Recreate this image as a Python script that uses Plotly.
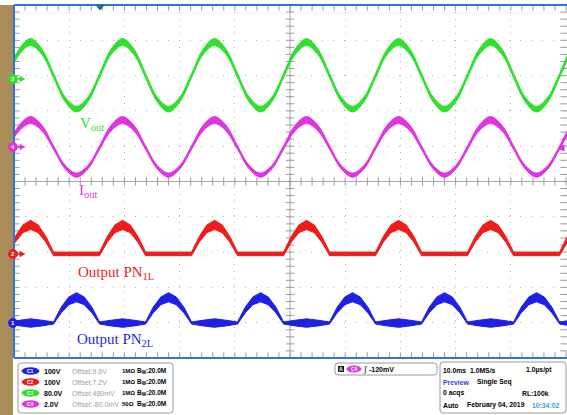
import numpy as np
import plotly.graph_objects as go

W, H = 567, 415

# ---------------- data: time (ms) vs screen divisions ----------------
# sine traces: points every 1/8 period (peaks, crossings, troughs, in between)
t_sine = [-51.17, -49.08, -47.00, -44.92, -42.83, -40.75, -38.67, -36.58, -34.50,
          -32.42, -30.33, -28.25, -26.17, -24.08, -22.00, -19.92, -17.83, -15.75,
          -13.67, -11.58, -9.50, -7.42, -5.33, -3.25, -1.17, 0.92, 3.00, 5.08,
          7.17, 9.25, 11.33, 13.42, 15.50, 17.58, 19.67, 21.75, 23.83, 25.92,
          28.00, 30.08, 32.17, 34.25, 36.33, 38.42, 40.50, 42.58, 44.67, 46.75,
          48.83, 50.92, 53.00]
vout_mid = [3.00, 3.67, 3.95, 3.67, 3.00, 2.33, 2.05, 2.33,
            3.00, 3.67, 3.95, 3.67, 3.00, 2.33, 2.05, 2.33,
            3.00, 3.67, 3.95, 3.67, 3.00, 2.33, 2.05, 2.33,
            3.00, 3.67, 3.95, 3.67, 3.00, 2.33, 2.05, 2.33,
            3.00, 3.67, 3.95, 3.67, 3.00, 2.33, 2.05, 2.33,
            3.00, 3.67, 3.95, 3.67, 3.00, 2.33, 2.05, 2.33,
            3.00, 3.67, 3.95]
vout_half = [0.06, 0.08, 0.10, 0.08, 0.06, 0.07, 0.08, 0.07,
             0.06, 0.08, 0.10, 0.08, 0.06, 0.07, 0.08, 0.07,
             0.06, 0.08, 0.10, 0.08, 0.06, 0.07, 0.08, 0.07,
             0.06, 0.08, 0.10, 0.08, 0.06, 0.07, 0.08, 0.07,
             0.06, 0.08, 0.10, 0.08, 0.06, 0.07, 0.08, 0.07,
             0.06, 0.08, 0.10, 0.08, 0.06, 0.07, 0.08, 0.07,
             0.06, 0.08, 0.10]
iout_mid = [0.96, 1.51, 1.74, 1.51, 0.96, 0.41, 0.18, 0.41,
            0.96, 1.51, 1.74, 1.51, 0.96, 0.41, 0.18, 0.41,
            0.96, 1.51, 1.74, 1.51, 0.96, 0.41, 0.18, 0.41,
            0.96, 1.51, 1.74, 1.51, 0.96, 0.41, 0.18, 0.41,
            0.96, 1.51, 1.74, 1.51, 0.96, 0.41, 0.18, 0.41,
            0.96, 1.51, 1.74, 1.51, 0.96, 0.41, 0.18, 0.41,
            0.96, 1.51, 1.74]
iout_half = [0.05, 0.08, 0.10, 0.08, 0.05, 0.05, 0.06, 0.05,
             0.05, 0.08, 0.10, 0.08, 0.05, 0.05, 0.06, 0.05,
             0.05, 0.08, 0.10, 0.08, 0.05, 0.05, 0.06, 0.05,
             0.05, 0.08, 0.10, 0.08, 0.05, 0.05, 0.06, 0.05,
             0.05, 0.08, 0.10, 0.08, 0.05, 0.05, 0.06, 0.05,
             0.05, 0.08, 0.10, 0.08, 0.05, 0.05, 0.06, 0.05,
             0.05, 0.08, 0.10]

# Output PN1L: pulses during the positive half cycle
t_pn1 = [-51.17, -49.78, -48.39, -47.00, -45.61, -44.22, -42.83,
         -34.50, -33.11, -31.72, -30.33, -28.94, -27.55, -26.16,
         -17.84, -16.45, -15.06, -13.67, -12.28, -10.89, -9.50,
         -1.17, 0.22, 1.61, 3.00, 4.39, 5.78, 7.17,
         15.50, 16.89, 18.28, 19.67, 21.06, 22.45, 23.84,
         32.16, 33.55, 34.94, 36.33, 37.72, 39.11, 40.50,
         48.83, 50.22, 51.61, 53.00]
pn1_mid = [-2.05, -1.64, -1.34, -1.23, -1.34, -1.64, -2.05,
           -2.05, -1.64, -1.34, -1.23, -1.34, -1.64, -2.05,
           -2.05, -1.64, -1.34, -1.23, -1.34, -1.64, -2.05,
           -2.05, -1.64, -1.34, -1.23, -1.34, -1.64, -2.05,
           -2.05, -1.64, -1.34, -1.23, -1.34, -1.64, -2.05,
           -2.05, -1.64, -1.34, -1.23, -1.34, -1.64, -2.05,
           -2.05, -1.64, -1.34, -1.23]
pn1_half = [0.05, 0.08, 0.11, 0.13, 0.11, 0.08, 0.05,
            0.05, 0.08, 0.11, 0.13, 0.11, 0.08, 0.05,
            0.05, 0.08, 0.11, 0.13, 0.11, 0.08, 0.05,
            0.05, 0.08, 0.11, 0.13, 0.11, 0.08, 0.05,
            0.05, 0.08, 0.11, 0.13, 0.11, 0.08, 0.05,
            0.05, 0.08, 0.11, 0.13, 0.11, 0.08, 0.05,
            0.05, 0.08, 0.11, 0.13]

# Output PN2L: pulses during the negative half cycle, ripple band on the floor
t_pn2 = [-51.17, -49.08, -47.00, -44.92,
         -42.84, -41.45, -40.06, -38.67, -37.28, -35.89, -34.50,
         -32.42, -30.33, -28.25,
         -26.17, -24.78, -23.39, -22.00, -20.61, -19.22, -17.83,
         -15.75, -13.67, -11.59,
         -9.50, -8.11, -6.72, -5.33, -3.94, -2.55, -1.16,
         0.92, 3.00, 5.08,
         7.16, 8.55, 9.94, 11.33, 12.72, 14.11, 15.50,
         17.58, 19.67, 21.75,
         23.83, 25.22, 26.61, 28.00, 29.39, 30.78, 32.17,
         34.25, 36.33, 38.42,
         40.50, 41.89, 43.28, 44.67, 46.06, 47.45, 48.84,
         50.92, 53.00]
pn2_mid = [-4.01, -4.01, -4.01, -4.01,
           -4.01, -3.64, -3.38, -3.28, -3.38, -3.64, -4.01,
           -4.01, -4.01, -4.01,
           -4.01, -3.64, -3.38, -3.28, -3.38, -3.64, -4.01,
           -4.01, -4.01, -4.01,
           -4.01, -3.64, -3.38, -3.28, -3.38, -3.64, -4.01,
           -4.01, -4.01, -4.01,
           -4.01, -3.64, -3.38, -3.28, -3.38, -3.64, -4.01,
           -4.01, -4.01, -4.01,
           -4.01, -3.64, -3.38, -3.28, -3.38, -3.64, -4.01,
           -4.01, -4.01, -4.01,
           -4.01, -3.64, -3.38, -3.28, -3.38, -3.64, -4.01,
           -4.01, -4.01]
pn2_half = [0.03, 0.08, 0.12, 0.08,
            0.03, 0.08, 0.11, 0.13, 0.11, 0.08, 0.03,
            0.08, 0.12, 0.08,
            0.03, 0.08, 0.11, 0.13, 0.11, 0.08, 0.03,
            0.08, 0.12, 0.08,
            0.03, 0.08, 0.11, 0.13, 0.11, 0.08, 0.03,
            0.08, 0.12, 0.08,
            0.03, 0.08, 0.11, 0.13, 0.11, 0.08, 0.03,
            0.08, 0.12, 0.08,
            0.03, 0.08, 0.11, 0.13, 0.11, 0.08, 0.03,
            0.08, 0.12, 0.08,
            0.03, 0.08, 0.11, 0.13, 0.11, 0.08, 0.03,
            0.08, 0.12]

trace_labels = ["V<sub>out</sub>", "I<sub>out</sub>", "Output PN<sub>1L</sub>", "Output PN<sub>2L</sub>"]

ch_names = ["C1", "C2", "C3", "C4"]
ch_scale = ["100V", "100V", "80.0V", "2.0V"]
ch_offset = ["Offset:9.6V", "Offset:7.2V", "Offset:480mV", "Offset:-80.0mV"]
ch_imp = ["1MΩ", "1MΩ", "1MΩ", "50Ω"]
ch_bw = ["20.0M", "20.0M", "20.0M", "20.0M"]
trig_text = "-120mV"
info_rows = [["10.0ms", "1.0MS/s", "1.0µs/pt"],
             ["Preview", "Single Seq"],
             ["0 acqs", "RL:100k"],
             ["Auto", "February 04, 2019", "10:34:02"]]

assert len(t_sine) == len(vout_mid) == len(vout_half) == len(iout_mid) == len(iout_half)
assert len(t_pn1) == len(pn1_mid) == len(pn1_half)
assert len(t_pn2) == len(pn2_mid) == len(pn2_half)

# ---------------- styling ----------------
C_BLUE = "#1f1fe6"
C_RED = "#f01c1c"
C_GREEN = "#2fe02f"
C_MAG = "#e034e0"
C_BORDER = "#2f74e0"
C_GRID = "#b4b4b4"
C_TICK = "#9a9a9a"
ch_colors = [C_BLUE, C_RED, C_GREEN, C_MAG]

def X(px):
    return px / W

def Y(py):
    return 1 - py / H

fig = go.Figure()

def band(t, mid, half, color, shape):
    lo = [m - h for m, h in zip(mid, half)]
    hi = [m + h for m, h in zip(mid, half)]
    fig.add_trace(go.Scatter(x=t, y=lo, mode="lines",
                             line=dict(color=color, width=1, shape=shape),
                             hoverinfo="skip", showlegend=False))
    fig.add_trace(go.Scatter(x=t, y=hi, mode="lines",
                             line=dict(color=color, width=1, shape=shape),
                             fill="tonexty", fillcolor=color,
                             hoverinfo="skip", showlegend=False))

# graticule ticks (minor divisions) on edges and centre cross
xt = np.round(np.arange(-50, 50.01, 2.0), 3)
yt = np.round(np.arange(-5, 5.001, 0.2), 3)
tick_line = dict(color=C_TICK, width=1)
for yy, sz in [(0, 6), (5, 8), (-5, 8)]:
    fig.add_trace(go.Scatter(x=xt, y=[yy] * len(xt), mode="markers",
                             marker=dict(symbol="line-ns", size=sz, line=tick_line),
                             hoverinfo="skip", showlegend=False))
for xx, sz in [(0, 6), (-50, 8), (50, 8)]:
    fig.add_trace(go.Scatter(x=[xx] * len(yt), y=yt, mode="markers",
                             marker=dict(symbol="line-ew", size=sz, line=tick_line),
                             hoverinfo="skip", showlegend=False))

band(t_sine, vout_mid, vout_half, C_GREEN, "spline")
band(t_sine, iout_mid, iout_half, C_MAG, "spline")
band(t_pn1, pn1_mid, pn1_half, C_RED, "linear")
band(t_pn2, pn2_mid, pn2_half, C_BLUE, "linear")

shapes = []
# centre cross
shapes.append(dict(type="line", xref="x", yref="y domain", x0=0, x1=0, y0=0, y1=1,
                   line=dict(color="#a8a8a8", width=1), layer="below"))
shapes.append(dict(type="line", xref="x domain", yref="y", x0=0, x1=1, y0=0, y1=0,
                   line=dict(color="#a8a8a8", width=1), layer="below"))
# brown side bar
shapes.append(dict(type="rect", xref="paper", yref="paper", x0=X(0), x1=X(13),
                   y0=Y(415), y1=Y(5), fillcolor="#a98c57", line=dict(width=0)))
# blue borders
for (x0, y0, x1, y1) in [(14, 5, 567, 5), (14, 358, 567, 358), (14, 5, 14, 358)]:
    shapes.append(dict(type="line", xref="paper", yref="paper",
                       x0=X(x0), x1=X(x1), y0=Y(y0), y1=Y(y1),
                       line=dict(color=C_BORDER, width=2)))

def rbox(x0, y0, x1, y1, r=3, fill="white", line="#9a9a9a"):
    p = (f"M {X(x0+r)},{Y(y0)} L {X(x1-r)},{Y(y0)} Q {X(x1)},{Y(y0)} {X(x1)},{Y(y0+r)} "
         f"L {X(x1)},{Y(y1-r)} Q {X(x1)},{Y(y1)} {X(x1-r)},{Y(y1)} "
         f"L {X(x0+r)},{Y(y1)} Q {X(x0)},{Y(y1)} {X(x0)},{Y(y1-r)} "
         f"L {X(x0)},{Y(y0+r)} Q {X(x0)},{Y(y0)} {X(x0+r)},{Y(y0)} Z")
    shapes.append(dict(type="path", xref="paper", yref="paper", path=p,
                       fillcolor=fill, line=dict(color=line, width=1)))

def ellipse(x0, y0, x1, y1, color):
    shapes.append(dict(type="circle", xref="paper", yref="paper",
                       x0=X(x0), x1=X(x1), y0=Y(y1), y1=Y(y0),
                       fillcolor=color, line=dict(color=color, width=1)))

def tri(points, color):
    p = "M " + " L ".join(f"{X(a)},{Y(b)}" for a, b in points) + " Z"
    shapes.append(dict(type="path", xref="paper", yref="paper", path=p,
                       fillcolor=color, line=dict(color=color, width=1)))

annotations = []

def txt(text, x, y, size=7, color="black", xanchor="left", family="Liberation Sans", bold=False):
    if bold:
        text = "<b>" + text + "</b>"
    annotations.append(dict(text=text, x=X(x), y=Y(y), xref="paper", yref="paper",
                            xanchor=xanchor, yanchor="middle", showarrow=False,
                            borderpad=0, font=dict(family=family, size=size, color=color)))

# channel ground markers on the left edge
marker_y = [323, 254, 79, 147]
for i in range(4):
    yy = marker_y[i]
    c = ch_colors[i]
    shapes.append(dict(type="line", xref="paper", yref="paper", x0=X(16), x1=X(21),
                       y0=Y(yy), y1=Y(yy), line=dict(color=c, width=1.5)))
    tri([(20, yy - 2.5), (24.5, yy), (20, yy + 2.5)], c)
    ellipse(8.5, yy - 4.5, 17.5, yy + 4.5, c)
    txt(str(i + 1), 13, yy, size=6, color="white", xanchor="center", bold=True)

# trigger position marker (top) and trigger level marker (right)
tri([(96, 5), (104, 5), (100, 10)], "#1d6f8f")
tri([(558, 148), (564, 145), (564, 151)], C_MAG)

# waveform labels
lab_font = "Liberation Serif"
txt(trace_labels[0], 79, 124, size=15, color=C_GREEN, family=lab_font)
txt(trace_labels[1], 78, 191, size=15, color=C_MAG, family=lab_font)
txt(trace_labels[2], 77, 273, size=15, color=C_RED, family=lab_font)
txt(trace_labels[3], 76, 340, size=15, color=C_BLUE, family=lab_font)

# channel info box
rbox(18, 363, 173, 413)
row_y = [371, 382, 393, 404]
for i in range(4):
    yy = row_y[i]
    ellipse(22, yy - 3.2, 39, yy + 3.2, ch_colors[i])
    txt(ch_names[i], 30.5, yy, size=5, color="white", xanchor="center", bold=True)
    txt(ch_scale[i], 43, yy, size=7, bold=True)
    txt(ch_offset[i], 71, yy, size=7, color="#a0a0a0")
    txt(ch_imp[i], 121, yy, size=6, bold=True)
    txt("B<sub>W</sub>:" + ch_bw[i], 136, yy, size=6.5, bold=True)

# trigger box
rbox(335, 363, 437, 375)
shapes.append(dict(type="rect", xref="paper", yref="paper", x0=X(338), x1=X(344),
                   y0=Y(372), y1=Y(366), fillcolor="#202020", line=dict(width=0)))
txt("A", 341, 369, size=5, color="white", xanchor="center", bold=True)
ellipse(347, 366, 361, 372, C_MAG)
txt("C4", 354, 369, size=5, color="white", xanchor="center", bold=True)
txt("∫", 365, 369, size=8, xanchor="center")
txt(trig_text, 368, 369, size=7, bold=True)

# timebase / acquisition box
rbox(440, 362, 566, 413)
fs = 6.8
txt(info_rows[0][0], 442, 370, size=fs, bold=True)
txt(info_rows[0][1], 469, 370, size=fs, bold=True)
txt(info_rows[0][2], 525, 370, size=fs, bold=True)
txt(info_rows[1][0], 442, 382, size=fs, color="#3a3ae0", bold=True)
txt(info_rows[1][1], 476, 382, size=fs, bold=True)
txt(info_rows[2][0], 442, 393, size=fs, bold=True)
txt(info_rows[2][1], 521, 393, size=fs, bold=True)
txt(info_rows[3][0], 442, 405, size=fs, bold=True)
txt(info_rows[3][1], 466, 405, size=fs, bold=True)
txt(info_rows[3][2], 531, 405, size=fs, color="#3d9be8", bold=True)

fig.update_layout(
    width=W, height=H, autosize=False,
    margin=dict(l=0, r=0, t=0, b=0),
    paper_bgcolor="white", plot_bgcolor="white",
    showlegend=False,
    shapes=shapes, annotations=annotations,
    xaxis=dict(domain=[X(14), 1.0], range=[-50, 50.18], tick0=-50, dtick=10,
               showgrid=True, gridcolor=C_GRID, gridwidth=1, griddash="1px,6px",
               zeroline=False, showline=False, showticklabels=False, ticks="",
               fixedrange=True),
    yaxis=dict(domain=[Y(358), Y(5)], range=[-5, 5], tick0=-5, dtick=1,
               showgrid=True, gridcolor=C_GRID, gridwidth=1, griddash="1px,10px",
               zeroline=False, showline=False, showticklabels=False, ticks="",
               fixedrange=True),
)

fig.write_html("out.html", config={"displayModeBar": False, "staticPlot": True},
               post_script="document.body.style.margin='0px';document.body.style.overflow='hidden';")
